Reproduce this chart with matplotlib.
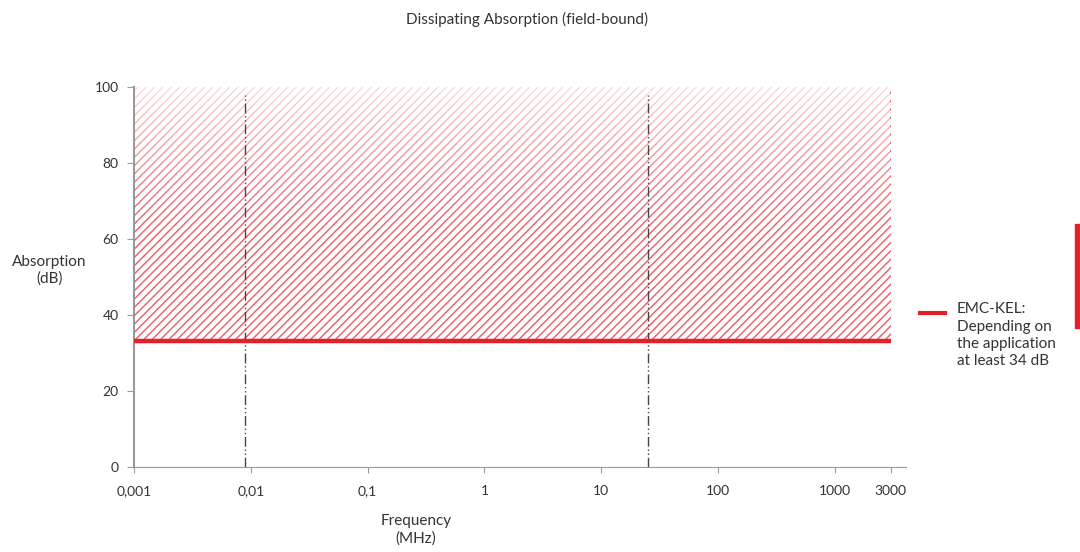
import numpy as np
import matplotlib
matplotlib.use("Agg")
import matplotlib.pyplot as plt
from matplotlib.patches import Rectangle
from matplotlib.lines import Line2D

plt.rcParams['font.family'] = ['Lato', 'DejaVu Sans']
plt.rcParams['hatch.linewidth'] = 1.0

# data
freq_range = [0.001, 3000]          # MHz
min_absorption = 33.2               # dB (red line)
max_absorption = 100
marker_freqs = [0.009, 25]          # dash-dot verticals
xticks = [0.001, 0.01, 0.1, 1, 10, 100, 1000, 3000]
xticklabels = ["0,001", "0,01", "0,1", "1", "10", "100", "1000", "3000"]
yticks = [0, 20, 40, 60, 80, 100]
legend_label = "EMC-KEL:\nDepending on\nthe application\nat least 34 dB"

RED = "#e4202a"
HATCH = "#ec5a63"
TXT = "#333333"
GREY = "#9a9a9a"

fig = plt.figure(figsize=(10.8, 5.52), dpi=100)
ax = fig.add_axes([0.124, 0.154, 0.715, 0.688])
ax.set_xscale("log")
ax.set_xlim(0.001, 4060)
ax.set_ylim(0, 100)

# hatched region
ax.fill_between(freq_range, min_absorption, max_absorption, facecolor="none",
                edgecolor=HATCH, hatch="////", linewidth=0, zorder=1)
# fade towards the top
grad = np.linspace(0, 1, 200).reshape(-1, 1)
alpha = np.clip((grad - 0.6) / 0.4, 0, 1) ** 1.3 * 0.8
img = np.ones((200, 1, 4))
img[..., 3] = alpha
ax.imshow(img, extent=[freq_range[0], freq_range[1], 0, 100.5], origin="lower",
          aspect="auto", zorder=2, interpolation="bilinear", clip_on=False)

for f in marker_freqs:
    ax.plot([f, f], [0, 98], color="#444444", lw=1.0,
            dashes=(7, 2, 1, 2, 1, 2), zorder=3)

ax.plot(freq_range, [min_absorption] * 2, color=RED, lw=3.2, zorder=4,
        solid_capstyle="butt")

ax.set_xticks(xticks)
ax.set_xticklabels(xticklabels)
ax.minorticks_off()
ax.set_yticks(yticks)
ax.tick_params(axis="x", length=4, color=GREY, labelsize=10, labelcolor=TXT, pad=9)
ax.tick_params(axis="y", length=5, color=GREY, labelsize=10, labelcolor=TXT, pad=6)
for s in ["top", "right"]:
    ax.spines[s].set_visible(False)
ax.spines["left"].set_color(GREY)
ax.spines["left"].set_linewidth(1.5)
ax.spines["bottom"].set_color(GREY)

fig.text(0.488, 0.965, "Dissipating Absorption (field-bound)", ha="center", va="center",
         fontsize=11, color=TXT)
fig.text(0.046, 0.51, "Absorption\n(dB)", ha="center", va="center", fontsize=11, color=TXT,
         linespacing=1.25)
fig.text(0.385, 0.04, "Frequency\n(MHz)", ha="center", va="center", fontsize=11, color=TXT,
         linespacing=1.25)

# manual legend
fig.lines.append(Line2D([0.852, 0.875], [0.433, 0.433], transform=fig.transFigure,
                        color=RED, lw=3.0))
fig.text(0.886, 0.452, legend_label, ha="left", va="top", fontsize=11, color=TXT,
         linespacing=1.3)

fig.patches.append(Rectangle((0.995, 0.405), 0.01, 0.19, transform=fig.transFigure,
                             color=RED, zorder=5))

fig.savefig("out.png", dpi=100)
